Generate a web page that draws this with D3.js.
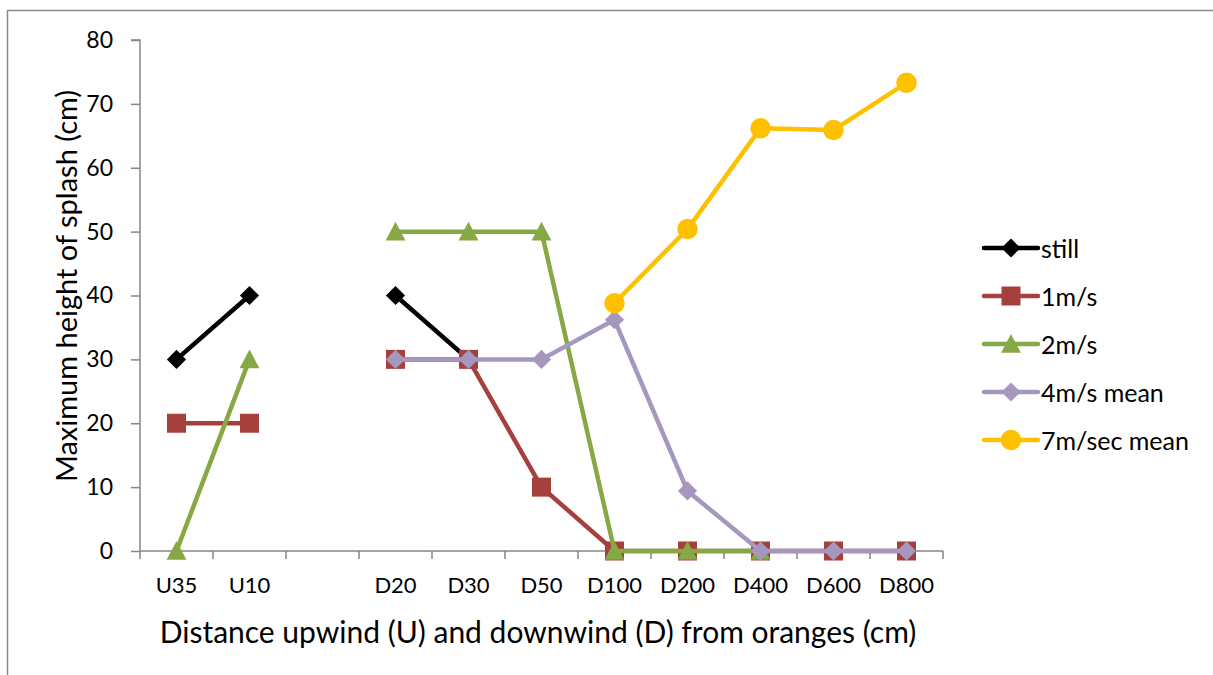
<!DOCTYPE html>
<html><head><meta charset="utf-8">
<script src="https://cdnjs.cloudflare.com/ajax/libs/d3/7.8.5/d3.min.js"></script>
<style>html,body{margin:0;padding:0;background:#fff;}svg{display:block;}</style>
</head><body>
<script>
const categories = ["U35","U10","","D20","D30","D50","D100","D200","D400","D600","D800"];
const still   = [30,40,null,40,30,null,null,null,null,null,null];
const ms1     = [20,20,null,30,30,10,0,0,0,0,0];
const ms2     = [0,30,null,50,50,50,0,0,0,null,null];
const ms4     = [null,null,null,30,30,30,36.2,9.4,0,0,0];
const ms7     = [null,null,null,null,null,null,38.8,50.4,66.2,65.9,73.3];
const yTicks  = [0,10,20,30,40,50,60,70,80];
const seriesNames = ["still","1m/s","2m/s","4m/s mean","7m/sec mean"];
const seriesColors = ["#000000","#A5403D","#86A845","#A597BE","#FFC000"];
const seriesShapes = ["diamond","square","triangle","diamond","circle"];
const seriesData = [still, ms1, ms2, ms4, ms7];

const W=1213,H=675;
const svg=d3.select("body").append("svg").attr("width",W).attr("height",H);
svg.append("rect").attr("x",7.5).attr("y",10.5).attr("width",1220).attr("height",700)
  .attr("fill","none").attr("stroke","#888").attr("stroke-width",1.5);

const x0=140,x1=943,yTop=40,yBot=551;
const x=d3.scaleBand().domain(d3.range(categories.length)).range([x0,x1]);
const y=d3.scaleLinear().domain([0,80]).range([yBot,yTop]);
const font="Lato, 'Open Sans', sans-serif";
const axisCol="#868686";

// y axis
const ya=svg.append("g").attr("transform",`translate(${x0},0)`)
  .call(d3.axisLeft(y).tickValues(yTicks).tickSize(9).tickPadding(18));
ya.select(".domain").attr("stroke",axisCol).attr("stroke-width",1.5).attr("d",`M-9,${yTop}H0V${yBot}`);
ya.selectAll(".tick line").attr("stroke",axisCol).attr("stroke-width",1.5);
ya.selectAll(".tick text").attr("font-family",font).attr("font-size",23).attr("fill","#000");

// x axis
const xa=svg.append("g").attr("transform",`translate(0,${yBot})`)
  .call(d3.axisBottom(x).tickFormat(i=>categories[i]).tickSize(0).tickPadding(26));
xa.select(".domain").attr("stroke",axisCol).attr("stroke-width",1.5).attr("d",`M${x0},0H${x1}`);
xa.selectAll(".tick text").attr("font-family",font).attr("font-size",22).attr("fill","#000");
// boundary ticks
const bounds=d3.range(categories.length+1).map(i=>x0+i*x.step());
xa.selectAll(".bt").data(bounds).enter().append("line")
  .attr("x1",d=>d).attr("x2",d=>d).attr("y1",0).attr("y2",8)
  .attr("stroke",axisCol).attr("stroke-width",1.5);

// titles
svg.append("text").attr("transform",`translate(77,286) rotate(-90)`)
  .attr("text-anchor","middle").attr("font-family",font).attr("font-size",29).text("Maximum height of splash (cm)");
svg.append("text").attr("x",538).attr("y",643).attr("text-anchor","middle")
  .attr("font-family",font).attr("font-size",30).text("Distance upwind (U) and downwind (D) from oranges (cm)");

const cx=i=>x(i)+x.bandwidth()/2;
function marker(g,shape,color,px,py,s){
  if(shape==="circle") g.append("circle").attr("cx",px).attr("cy",py).attr("r",s*0.62).attr("fill",color);
  else if(shape==="square") g.append("rect").attr("x",px-s/2).attr("y",py-s/2).attr("width",s).attr("height",s).attr("fill",color);
  else if(shape==="diamond") g.append("path").attr("d",`M${px},${py-s*0.6}L${px+s*0.6},${py}L${px},${py+s*0.6}L${px-s*0.6},${py}Z`).attr("fill",color);
  else if(shape==="triangle") g.append("path").attr("d",`M${px},${py-s*0.62}L${px+s*0.62},${py+s*0.55}L${px-s*0.62},${py+s*0.55}Z`).attr("fill",color);
}
const line=d3.line().defined(d=>d.v!==null).x(d=>cx(d.i)).y(d=>y(d.v));
const sizes=[16,19,16,16,16.5];
seriesData.forEach((arr,k)=>{
  const g=svg.append("g");
  const pts=arr.map((v,i)=>({v,i}));
  g.append("path").attr("d",line(pts)).attr("fill","none").attr("stroke",seriesColors[k])
    .attr("stroke-width",4.5).attr("stroke-linejoin","round");
  pts.filter(d=>d.v!==null).forEach(d=>marker(g,seriesShapes[k],seriesColors[k],cx(d.i),y(d.v),sizes[k]));
});

// legend
const lg=svg.append("g");
seriesNames.forEach((n,k)=>{
  const ly=248+k*48;
  lg.append("line").attr("x1",984).attr("x2",1038).attr("y1",ly).attr("y2",ly)
    .attr("stroke",seriesColors[k]).attr("stroke-width",4.5).attr("stroke-linecap","round");
  marker(lg,seriesShapes[k],seriesColors[k],1011,ly,sizes[k]);
  lg.append("text").attr("x",1041).attr("y",ly+10).attr("font-family",font).attr("font-size",25).text(n);
});
</script>
</body></html>
